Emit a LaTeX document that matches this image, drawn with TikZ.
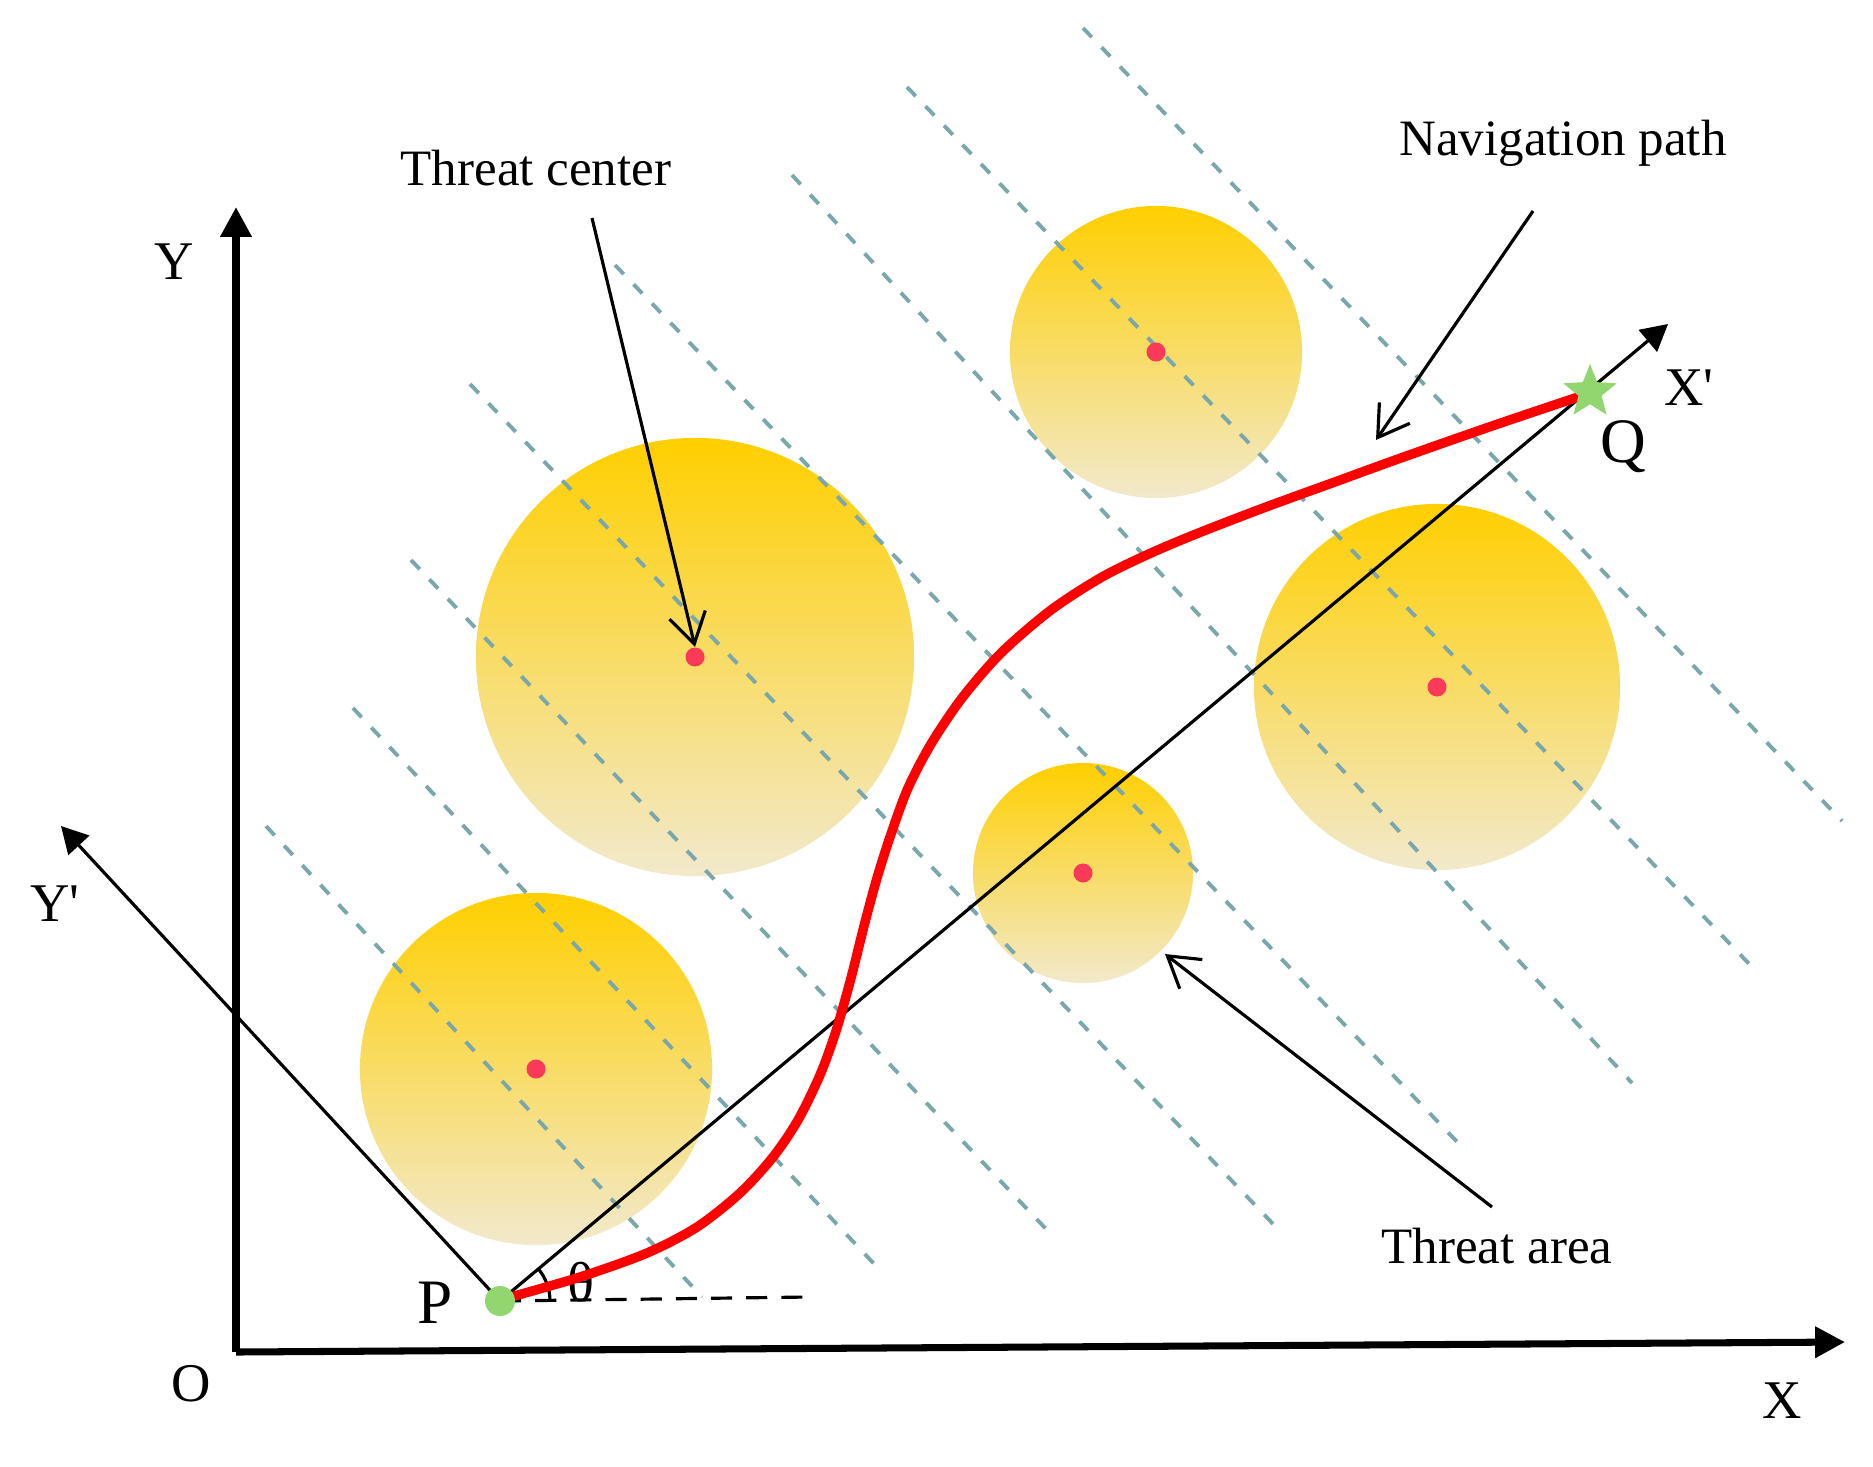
\documentclass[tikz,border=0pt]{standalone}
\usepackage{fontspec}
\setmainfont{Liberation Serif}
\usetikzlibrary{arrows.meta,shapes.geometric}
\definecolor{gold}{RGB}{255,207,0}
\definecolor{cream}{RGB}{242,233,204}
\definecolor{dashc}{RGB}{122,167,172}
\definecolor{pathred}{RGB}{255,0,0}
\definecolor{ptgreen}{RGB}{146,214,112}
\definecolor{dotred}{RGB}{250,58,88}
\begin{document}
\begin{tikzpicture}[x=0.01cm,y=-0.01cm,
  threat/.style={circle, draw=none, inner sep=0pt, outer sep=0pt, top color=gold, bottom color=cream},
  cdot/.style={circle, fill=dotred, draw=none, inner sep=0pt, minimum size=0.19cm},
  guide/.style={dashc, line width=1.1pt, dash pattern=on 3.6pt off 4pt},
  mainaxis/.style={line width=2pt, -{Triangle[length=8.5pt,width=8.5pt]}},
  subaxis/.style={line width=0.9pt, -{Triangle[length=7.5pt,width=8pt]}},
  callout/.style={line width=0.9pt, -{Straight Barb[length=8.5pt,width=10.5pt]}},
  lbl/.style={font=\fontsize{14.5}{17}\selectfont, inner sep=0pt},
  axlbl/.style={font=\fontsize{15.5}{18}\selectfont, inner sep=0pt},
  ptlbl/.style={font=\fontsize{18}{21}\selectfont, inner sep=0pt},
]
\useasboundingbox (0,0) rectangle (1873,1466);

% threat areas
\node[threat, minimum size=2.92cm] (c1) at (1156,352) {};
\node[threat, minimum size=4.38cm] (c2) at (695,657) {};
\node[threat, minimum size=3.52cm] (c3) at (536,1069) {};
\node[threat, minimum size=2.20cm] (c4) at (1083,873) {};
\node[threat, minimum size=3.66cm] (c5) at (1437,687) {};

% dashed guide lines
\draw[guide] (266,826) -- (702,1297);
\draw[guide] (353,708) -- (877,1267);
\draw[guide] (411,560) -- (1047,1230);
\draw[guide] (470,384) -- (1276,1227);
\draw[guide] (615,265) -- (1463,1148);
\draw[guide] (792,175) -- (1632,1083);
\draw[guide] (907,87) -- (1755,970);
\draw[guide] (1083,28) -- (1842,821);

% threat centres
\node[cdot] (d1) at (c1) {};
\node[cdot] (d2) at (c2) {};
\node[cdot] (d3) at (c3) {};
\node[cdot] (d4) at (c4) {};
\node[cdot] (d5) at (c5) {};

% axes
\coordinate (O) at (236,1352);
\coordinate (Yend) at (236,207);
\coordinate (Xend) at (1845,1342);
\draw[mainaxis] (O) -- (Yend);
\draw[mainaxis] (O) -- (Xend);
\node[axlbl] (Ylab) at (174,262) {Y};
\node[axlbl] (Olab) at (191,1384) {O};
\node[axlbl] (Xlab) at (1782,1401) {X};

% rotated frame
\coordinate (Pc) at (500,1301);
\coordinate (Qc) at (1590,392);
\coordinate (Xpend) at (1668,324);
\coordinate (Ypend) at (61,826);
\coordinate (Hend) at (808,1297);
\draw[subaxis] (Pc) -- (Ypend);
\draw[subaxis] (Pc) -- (Xpend);
\draw[line width=0.9pt, dash pattern=on 6pt off 4pt] (Pc) -- (Hend);
\draw[line width=0.9pt] (Pc) ++(50,0) arc[start angle=0, end angle=-40, radius=50];
\node[axlbl] (Yplab) at (55,904) {Y\textquotesingle};
\node[axlbl] (Xplab) at (1689,388) {X\textquotesingle};
\node[font=\fontsize{16}{19}\selectfont, inner sep=0pt] (theta) at (581,1282) {θ};

% navigation path
\draw[pathred, line width=2.7pt, line cap=round] plot[smooth, tension=0.5] coordinates {
  (500,1300) (580,1277) (647,1253) (697,1227) (740,1193) (773,1157) (798,1120)
  (820,1075) (836,1031) (851,978) (864,926) (877,878) (891,834) (908,788)
  (931,744) (962,698) (1001,653) (1051,610) (1102,577) (1151,553) (1201,532)
  (1266,507) (1332,483) (1398,459) (1492,426) (1590,393)};

% start and end points
\node[circle, fill=ptgreen, inner sep=0pt, minimum size=0.30cm] (P) at (Pc) {};
\node[star, star points=5, star point ratio=2.3, fill=ptgreen, inner sep=0pt, minimum size=0.56cm] (Q) at (Qc) {};
\node[ptlbl] (Plab) at (435,1303) {P};
\node[ptlbl] (Qlab) at (1623,447) {Q};

% callouts
\node[lbl] (tc) at (536,168) {Threat center};
\node[lbl] (np) at (1563,143) {Navigation path};
\node[lbl] (ta) at (1497,1246) {Threat area};
\coordinate (tcs) at (592,218);
\coordinate (nps) at (1533,211);
\coordinate (npe) at (1376,440);
\coordinate (tas) at (1492,1207);
\coordinate (tae) at (1165,954);
\draw[callout] (tcs) -- (d2.north);
\draw[callout] (nps) -- (npe);
\draw[callout] (tas) -- (tae);
\end{tikzpicture}
\end{document}
